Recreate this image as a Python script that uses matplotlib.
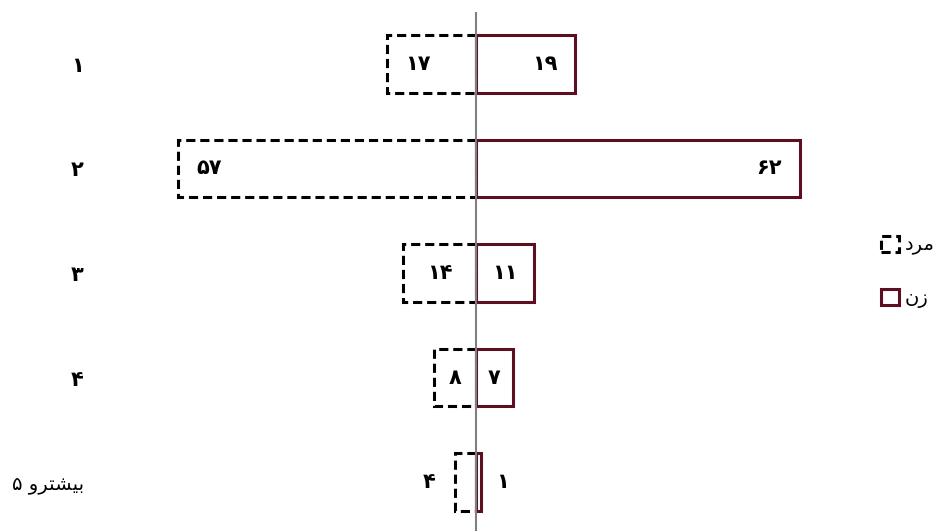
import matplotlib
matplotlib.use("Agg")
import matplotlib.pyplot as plt
from matplotlib.patches import Patch

# ---------------- data ----------------
categories = ["۱", "۲", "۳", "۴", "۵ و بیشتر"]
men = [17, 57, 14, 8, 4]
women = [19, 62, 11, 7, 1]
series_names = ["مرد", "زن"]

# ---------------- minimal Arabic-script shaping for display ----------------
FORMS = {  # isolated, final, initial, medial
    "م": ("\uFEE1", "\uFEE2", "\uFEE3", "\uFEE4"),
    "ر": ("\uFEAD", "\uFEAE", None, None),
    "د": ("\uFEA9", "\uFEAA", None, None),
    "ز": ("\uFEAF", "\uFEB0", None, None),
    "ن": ("\uFEE5", "\uFEE6", "\uFEE7", "\uFEE8"),
    "ب": ("\uFE8F", "\uFE90", "\uFE91", "\uFE92"),
    "ی": ("\uFBFC", "\uFBFD", "\uFEF3", "\uFEF4"),
    "ش": ("\uFEB5", "\uFEB6", "\uFEB7", "\uFEB8"),
    "ت": ("\uFE95", "\uFE96", "\uFE97", "\uFE98"),
    "و": ("\uFEED", "\uFEEE", None, None),
}


def shape_word(w):
    if not any(c in FORMS for c in w):
        return w
    out = []
    for i, c in enumerate(w):
        if c not in FORMS:
            out.append(c)
            continue
        prev = w[i - 1] if i > 0 else None
        nxt = w[i + 1] if i < len(w) - 1 else None
        jp = prev in FORMS and FORMS[prev][2] is not None
        jn = nxt in FORMS and FORMS[c][2] is not None
        iso, fin, ini, med = FORMS[c]
        if jp and jn:
            out.append(med)
        elif jp:
            out.append(fin)
        elif jn:
            out.append(ini)
        else:
            out.append(iso)
    return "".join(out)[::-1]


def visual(s):
    words = s.split(" ")
    out = ""
    for k, w in enumerate(words):
        out += shape_word(w)
        if k < len(words) - 1 and w != "و":
            out += " "
    return out


def fa_num(n):
    return str(n).translate(str.maketrans("0123456789", "۰۱۲۳۴۵۶۷۸۹"))


# ---------------- styling ----------------
MAROON = "#5E0E21"
DASH = (0, (3, 1.6))
LW = 2.2
FS = 15
PX = 5.23  # pixels per unit

plt.rcParams["font.family"] = ["DejaVu Sans"]

fig = plt.figure(figsize=(9.36, 5.31), dpi=100)
ax = fig.add_axes([120 / 936, 0, 740 / 936, 519 / 531])

y = list(range(len(categories)))
h = 0.555

ax.barh(y, [-v for v in men], left=0, height=h, facecolor="white",
        edgecolor="black", linewidth=LW, linestyle=DASH, zorder=2)
ax.barh(y, women, left=0, height=h, facecolor="white",
        edgecolor=MAROON, linewidth=LW, zorder=3)
ax.axvline(0, color="#7f7f7f", lw=1.5, zorder=6)

kw = dict(va="center", fontsize=FS, fontweight="bold")
# value labels
for i, v in enumerate(men):
    if v >= 15:
        ax.annotate(fa_num(v), (-v, i), xytext=(13, 0), textcoords="offset points",
                    ha="left", **kw)
    elif v >= 5:
        ax.annotate(fa_num(v), (-v / 2, i), ha="center", **kw)
    else:
        ax.annotate(fa_num(v), (-v, i), xytext=(-14, 0), textcoords="offset points",
                    ha="right", **kw)
for i, v in enumerate(women):
    if v >= 15:
        ax.annotate(fa_num(v), (v, i), xytext=(-13, 0), textcoords="offset points",
                    ha="right", **kw)
    elif v >= 5:
        ax.annotate(fa_num(v), (v / 2, i), ha="center", **kw)
    else:
        ax.annotate(fa_num(v), (v, i), xytext=(11, 0), textcoords="offset points",
                    ha="left", **kw)

ax.set_xlim(-356 / PX, 384 / PX)
ax.set_ylim(4 + 49 / 104.5, -52 / 104.5)
ax.set_yticks(y)
ax.set_yticklabels([visual(c) for c in categories], fontsize=14, ha="right")
for lbl, c in zip(ax.get_yticklabels(), categories):
    if " " not in c:
        lbl.set_fontweight("bold")
        lbl.set_fontsize(15)
ax.tick_params(axis="y", length=0, pad=26)
ax.set_xticks([])
for s in ax.spines.values():
    s.set_visible(False)
ax.patch.set_alpha(0)

handles = [
    Patch(facecolor="white", edgecolor="black", linewidth=LW, linestyle=DASH),
    Patch(facecolor="white", edgecolor=MAROON, linewidth=LW),
]
fig.legend(handles, [visual(n) for n in series_names], loc="center left",
           bbox_to_anchor=(881 / 936, 1 - 272 / 531), frameon=False, fontsize=14,
           handlelength=0.9, handleheight=0.9, handletextpad=0.3,
           labelspacing=1.7, borderpad=0, borderaxespad=0)

fig.savefig("out.png", dpi=100)
